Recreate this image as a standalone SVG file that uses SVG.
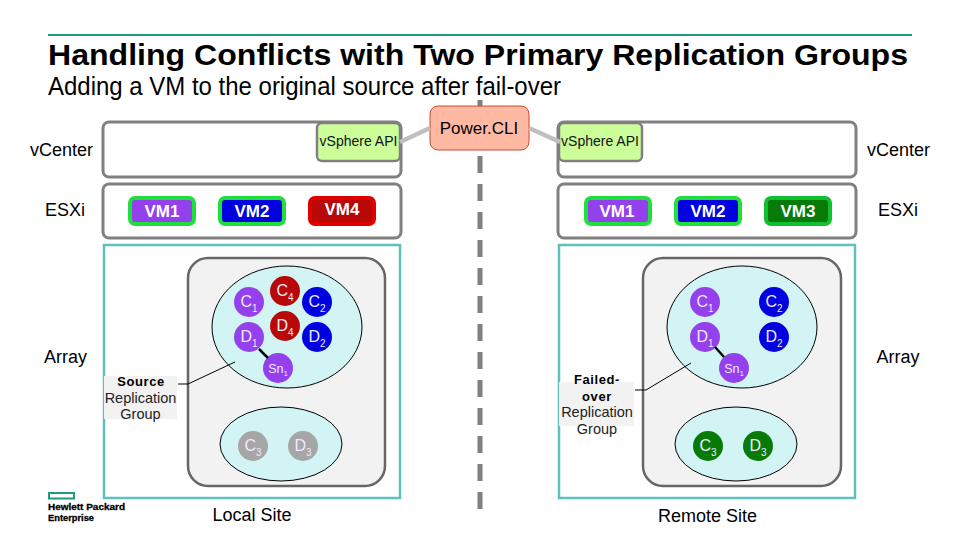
<svg xmlns="http://www.w3.org/2000/svg" width="960" height="540" viewBox="0 0 960 540">
<style>
text{font-family:"Liberation Sans",Arial,sans-serif;fill:#000}
.lab{font-size:18px;text-anchor:middle}
.box{fill:#fff;stroke:#808080;stroke-width:3}
.arr{fill:#fff;stroke:#5fc0c0;stroke-width:2.5}
.inner{fill:#f2f2f2;stroke:#666;stroke-width:2.5}
.rg{fill:#d2f4f4;stroke:#000;stroke-width:1}
.api{fill:#ccff99;stroke:#808080;stroke-width:2.5}
.apit{font-size:14px;text-anchor:middle;fill:#111}
.vmt{font-size:17px;font-weight:bold;text-anchor:middle;fill:#fff}
.disk{font-size:16px;text-anchor:middle;fill:#f0e8ff}
.sub{font-size:10px}
.snap{font-size:12.500px;text-anchor:middle;fill:#f0e8ff}
.rgt{font-size:14.500px;text-anchor:middle;fill:#222}
.rgb{font-size:13px;font-weight:bold;text-anchor:middle;letter-spacing:.6px}
.rgbg{fill:#f2f2f2}
.pur{fill:#9440ed}.blu{fill:#0000e0}.red{fill:#b80808}.gry{fill:#a6a6a6}.grn{fill:#087a08}
.vmg{stroke:#1ee03c;stroke-width:4}
.vmr{stroke:#e00000;stroke-width:4}
.vmd{stroke:#10c030;stroke-width:4}
.lead{fill:none;stroke:#000;stroke-width:1}
.snapl{stroke:#000;stroke-width:2.500}
.cli{stroke:#bfbfbf;stroke-width:4.500}
</style>

<rect x="48" y="34" width="864" height="2" fill="#1f9a80"/>
<text x="48" y="65" font-size="29" font-weight="bold" textLength="860" lengthAdjust="spacingAndGlyphs">Handling Conflicts with Two Primary Replication Groups</text>
<text x="48" y="95" font-size="25" textLength="513" lengthAdjust="spacingAndGlyphs">Adding a VM to the original source after fail-over</text>

<g id="divider"><path d="M480 100V106M480 156V173M480 184V201M480 212V229M480 240V257M480 268V285M480 296V313M480 324V341M480 352V369M480 380V397M480 408V425M480 436V453M480 464V481M480 492V509" stroke="#808080" stroke-width="5" fill="none"/></g>

<g id="left-vcenter">
<rect class="box" x="103" y="122" width="298" height="55" rx="6"/>
<text class="lab" x="61.500" y="156">vCenter</text>
</g>
<g id="left-api">
<rect class="api" x="317" y="123" width="83" height="38" rx="5"/>
<text class="apit" x="358.500" y="146">vSphere API</text>
</g>
<g id="left-esxi">
<rect class="box" x="103" y="184" width="298" height="54" rx="6"/>
<text class="lab" x="65" y="216">ESXi</text>
</g>
<g id="left-vm1"><rect class="pur vmg" x="130" y="198" width="64" height="26" rx="5"/><text class="vmt" x="162" y="217">VM1</text></g>
<g id="left-vm2"><rect class="blu vmg" x="220" y="198" width="64" height="26" rx="5"/><text class="vmt" x="252" y="217">VM2</text></g>
<g id="left-vm4"><rect class="red vmr" x="310" y="198" width="64" height="26" rx="5"/><text class="vmt" x="342" y="215">VM4</text></g>

<g id="left-array">
<rect class="arr" x="104" y="245" width="296" height="253"/>
<rect class="inner" x="188" y="258" width="197" height="228" rx="20"/>
<text class="lab" x="65.500" y="363">Array</text>
<text class="lab" x="252" y="521">Local Site</text>
</g>
<g id="left-rg1"><ellipse class="rg" cx="287" cy="327" rx="75" ry="61"/></g>
<g id="left-rg2"><ellipse class="rg" cx="281" cy="444" rx="61" ry="37"/></g>
<g id="left-source">
<rect class="rgbg" x="104" y="376" width="73" height="43"/>
<text class="rgb" x="141" y="386">Source</text>
<text class="rgt" x="140.500" y="403">Replication</text>
<text class="rgt" x="140.500" y="419">Group</text>
</g>
<g id="left-c1"><circle class="pur" cx="249" cy="302" r="15"/><text class="disk" x="249" y="307">C<tspan class="sub" dy="5">1</tspan></text></g>
<g id="left-c4"><circle class="red" cx="285" cy="291" r="15"/><text class="disk" x="285" y="296">C<tspan class="sub" dy="5">4</tspan></text></g>
<g id="left-c2"><circle class="blu" cx="317" cy="302" r="15"/><text class="disk" x="317" y="307">C<tspan class="sub" dy="5">2</tspan></text></g>
<g id="left-d1"><circle class="pur" cx="249" cy="337" r="15"/><text class="disk" x="249" y="342">D<tspan class="sub" dy="5">1</tspan></text></g>
<g id="left-d4"><circle class="red" cx="285" cy="326" r="15"/><text class="disk" x="285" y="331">D<tspan class="sub" dy="5">4</tspan></text></g>
<g id="left-d2"><circle class="blu" cx="317" cy="337" r="15"/><text class="disk" x="317" y="342">D<tspan class="sub" dy="5">2</tspan></text></g>
<g id="left-sn1"><circle class="pur" cx="278" cy="368" r="15"/><text class="snap" x="278" y="373">Sn<tspan font-size="8" dy="3">1</tspan></text></g>
<g id="left-c3"><circle class="gry" cx="253" cy="446" r="15"/><text class="disk" x="253" y="451">C<tspan class="sub" dy="5">3</tspan></text></g>
<g id="left-d3"><circle class="gry" cx="303" cy="446" r="15"/><text class="disk" x="303" y="451">D<tspan class="sub" dy="5">3</tspan></text></g>

<g id="powercli">
<rect x="430" y="106" width="99" height="44" rx="8" fill="#ffb9a3" stroke="#c84a2c" stroke-width="1"/>
<text x="479" y="134" font-size="17" text-anchor="middle">Power.CLI</text>
</g>

<g id="right-vcenter">
<rect class="box" x="558" y="122" width="298" height="55" rx="6"/>
<text class="lab" x="898.500" y="156">vCenter</text>
</g>
<g id="right-api">
<rect class="api" x="559" y="123" width="83" height="38" rx="5"/>
<text class="apit" x="600" y="146">vSphere API</text>
</g>
<g id="right-esxi">
<rect class="box" x="558" y="184" width="298" height="54" rx="6"/>
<text class="lab" x="898" y="216">ESXi</text>
</g>
<g id="right-vm1"><rect class="pur vmg" x="586" y="198" width="64" height="26" rx="5"/><text class="vmt" x="617" y="217">VM1</text></g>
<g id="right-vm2"><rect class="blu vmg" x="676" y="198" width="64" height="26" rx="5"/><text class="vmt" x="708" y="217">VM2</text></g>
<g id="right-vm3"><rect class="grn vmd" x="766" y="198" width="64" height="26" rx="5"/><text class="vmt" x="798" y="217">VM3</text></g>

<g id="right-array">
<rect class="arr" x="559" y="245" width="296" height="253"/>
<rect class="inner" x="643" y="258" width="198" height="228" rx="20"/>
<text class="lab" x="898" y="363">Array</text>
<text class="lab" x="707.500" y="522">Remote Site</text>
</g>
<g id="right-rg1"><ellipse class="rg" cx="742" cy="327" rx="75" ry="61"/></g>
<g id="right-rg2"><ellipse class="rg" cx="736" cy="444" rx="61" ry="37"/></g>
<g id="right-failed">
<rect class="rgbg" x="559" y="382" width="75" height="44"/>
<text class="rgb" x="597" y="384">Failed-</text>
<text class="rgb" x="597" y="401">over</text>
<text class="rgt" x="597" y="417">Replication</text>
<text class="rgt" x="597" y="434">Group</text>
</g>
<g id="right-c1"><circle class="pur" cx="705" cy="302" r="15"/><text class="disk" x="705" y="307">C<tspan class="sub" dy="5">1</tspan></text></g>
<g id="right-c2"><circle class="blu" cx="774" cy="302" r="15"/><text class="disk" x="774" y="307">C<tspan class="sub" dy="5">2</tspan></text></g>
<g id="right-d1"><circle class="pur" cx="705" cy="337" r="15"/><text class="disk" x="705" y="342">D<tspan class="sub" dy="5">1</tspan></text></g>
<g id="right-d2"><circle class="blu" cx="774" cy="337" r="15"/><text class="disk" x="774" y="342">D<tspan class="sub" dy="5">2</tspan></text></g>
<g id="right-sn1"><circle class="pur" cx="734" cy="368" r="15"/><text class="snap" x="734" y="373">Sn<tspan font-size="8" dy="3">1</tspan></text></g>
<g id="right-c3"><circle class="grn" cx="708" cy="446" r="15"/><text class="disk" x="708" y="451">C<tspan class="sub" dy="5">3</tspan></text></g>
<g id="right-d3"><circle class="grn" cx="758" cy="446" r="15"/><text class="disk" x="758" y="451">D<tspan class="sub" dy="5">3</tspan></text></g>

<g id="connectors">
<line class="cli" x1="400" y1="142" x2="430" y2="128"/>
<line class="cli" x1="529" y1="128" x2="560" y2="142"/>
<line class="snapl" x1="259" y1="349" x2="268" y2="358"/>
<line class="snapl" x1="715" y1="347" x2="724" y2="357"/>
<path class="lead" d="M178 384H188L235 362"/>
<path class="lead" d="M635 390H646L691 363"/>
</g>

<g id="logo">
<rect x="49" y="493" width="25" height="5.500" fill="none" stroke="#1f9a80" stroke-width="2"/>
<text x="48" y="510" font-size="9" font-weight="bold" textLength="77" lengthAdjust="spacingAndGlyphs" stroke="#000" stroke-width=".3">Hewlett Packard</text>
<text x="48" y="521" font-size="9" font-weight="bold" textLength="46" lengthAdjust="spacingAndGlyphs" stroke="#000" stroke-width=".3">Enterprise</text>
</g>
</svg>
